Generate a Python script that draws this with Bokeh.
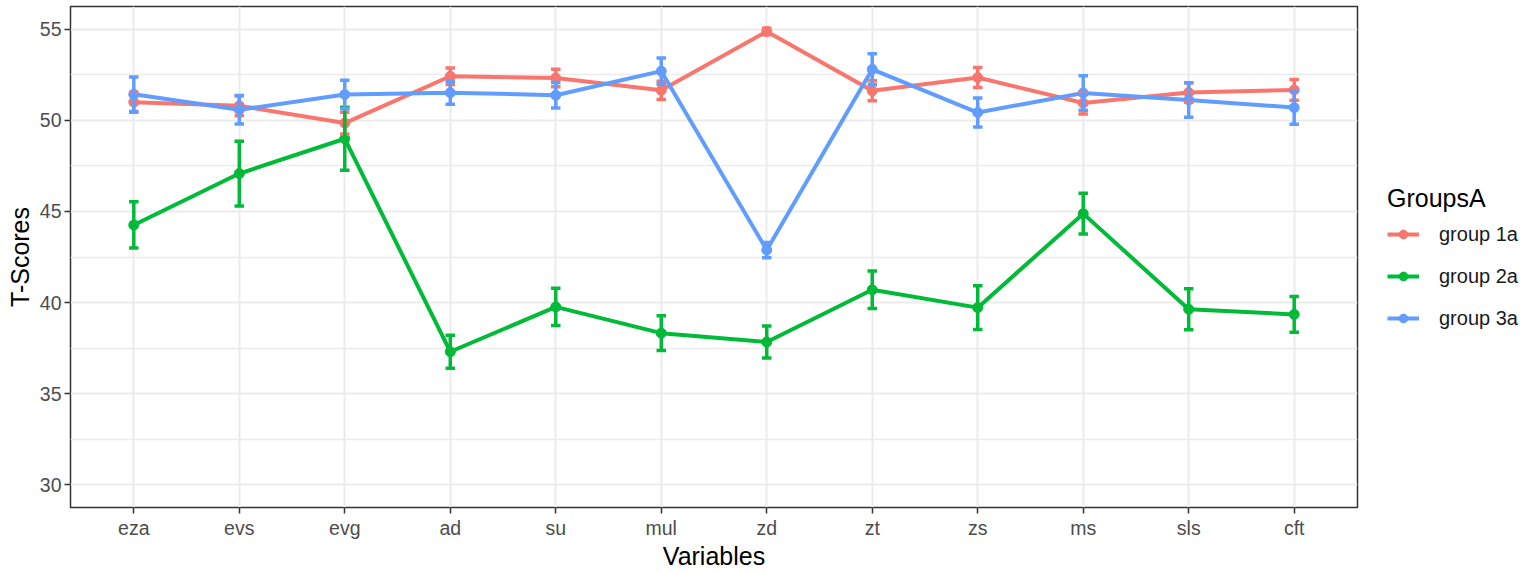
from bokeh.plotting import figure
from bokeh.models import (Range1d, FixedTicker, Legend, LegendItem)
from bokeh.embed import file_html
from bokeh.resources import INLINE

categories = ["eza", "evs", "evg", "ad", "su", "mul", "zd", "zt", "zs", "ms", "sls", "cft"]

g1_mean = [51.0, 50.8, 49.85, 52.42, 52.32, 51.65, 54.88, 51.62, 52.35, 50.95, 51.53, 51.67]
g1_err = [0.55, 0.55, 0.6, 0.45, 0.48, 0.5, 0.18, 0.55, 0.55, 0.6, 0.53, 0.57]

g2_mean = [44.26, 47.08, 48.99, 37.3, 39.76, 38.32, 37.83, 40.7, 39.72, 44.88, 39.63, 39.35]
g2_err = [1.27, 1.78, 1.73, 0.91, 1.02, 0.95, 0.88, 1.03, 1.2, 1.12, 1.13, 0.98]

g3_mean = [51.43, 50.58, 51.42, 51.52, 51.38, 52.7, 42.88, 52.8, 50.43, 51.5, 51.12, 50.7]
g3_err = [0.95, 0.78, 0.78, 0.63, 0.7, 0.72, 0.42, 0.85, 0.8, 0.95, 0.95, 0.92]

group_names = ["group 1a", "group 2a", "group 3a"]
colors = ["#F8766D", "#00BA38", "#619CFF"]

y_ticks = [30, 35, 40, 45, 50, 55]
y_minor = [32.5, 37.5, 42.5, 47.5, 52.5]

FONT = "Liberation Sans"

xs = [i + 1 for i in range(len(categories))]

p = figure(frame_width=1287, frame_height=501, output_backend="svg",
           toolbar_location=None, x_range=Range1d(0.4, 12.6),
           y_range=Range1d(28.75, 56.25),
           min_border_left=70, min_border_top=6, min_border_bottom=50,
           min_border_right=0)
p.background_fill_color = "white"
p.border_fill_color = "white"
p.outline_line_color = "#333333"
p.outline_line_width = 1.5

p.xaxis.ticker = FixedTicker(ticks=xs)
p.xaxis.major_label_overrides = {x: c for x, c in zip(xs, categories)}
p.yaxis.ticker = FixedTicker(ticks=y_ticks, minor_ticks=y_minor)

for ax in (p.xaxis[0], p.yaxis[0]):
    ax.axis_line_color = None
    ax.major_tick_line_color = "#333333"
    ax.major_tick_line_width = 1.5
    ax.major_tick_in = 0
    ax.major_tick_out = 6
    ax.minor_tick_line_color = None
    ax.major_label_text_font = FONT
    ax.major_label_text_font_size = "19.5px"
    ax.major_label_text_color = "#4D4D4D"
    ax.axis_label_text_font = FONT
    ax.axis_label_text_font_size = "25px"
    ax.axis_label_text_font_style = "normal"
    ax.axis_label_text_color = "#000000"

p.yaxis.major_label_standoff = 3
p.yaxis.axis_label_standoff = 3
p.xaxis.major_label_standoff = 3
p.xaxis.axis_label_standoff = 0

p.xaxis.axis_label = "Variables"
p.yaxis.axis_label = "T-Scores"

p.xgrid.grid_line_color = "#EBEBEB"
p.xgrid.grid_line_width = 2
p.ygrid.grid_line_color = "#EBEBEB"
p.ygrid.grid_line_width = 2
p.ygrid.minor_grid_line_color = "#EBEBEB"
p.ygrid.minor_grid_line_width = 1.5

series = [(g1_mean, g1_err), (g2_mean, g2_err), (g3_mean, g3_err)]
line_rs = []
pt_rs = []
for (m, e), c in zip(series, colors):
    line_rs.append(p.line(xs, m, line_color=c, line_width=4))
for (m, e), c in zip(series, colors):
    pt_rs.append(p.scatter(xs, m, size=10, fill_color=c, line_color=c))
cap = 0.045
for (m, e), c in zip(series, colors):
    lo = [a - b for a, b in zip(m, e)]
    hi = [a + b for a, b in zip(m, e)]
    p.segment(x0=xs, x1=xs, y0=lo, y1=hi, line_color=c, line_width=3.5)
    p.segment(x0=[x - cap for x in xs], x1=[x + cap for x in xs], y0=hi, y1=hi,
              line_color=c, line_width=3.5)
    p.segment(x0=[x - cap for x in xs], x1=[x + cap for x in xs], y0=lo, y1=lo,
              line_color=c, line_width=3.5)

items = [LegendItem(label=n, renderers=[lr, pr]) for n, lr, pr in zip(group_names, line_rs, pt_rs)]
legend = Legend(items=items, title="GroupsA", location="center_left",
                title_text_font=FONT, title_text_font_size="25px",
                title_text_font_style="normal", title_text_color="#000000",
                label_text_font=FONT, label_text_font_size="20px",
                label_text_color="#1A1A1A",
                glyph_width=32, glyph_height=22, label_height=22,
                spacing=19, title_standoff=10, padding=10, margin=30,
                border_line_color=None, background_fill_alpha=0,
                label_standoff=20)
p.add_layout(legend, "right")

open("out.html", "w").write(file_html(p, INLINE))
